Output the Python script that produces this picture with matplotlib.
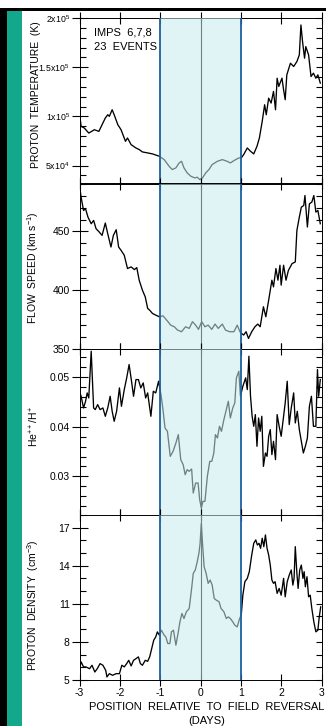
import matplotlib
matplotlib.use('Agg')
import matplotlib.pyplot as plt
from matplotlib.ticker import MultipleLocator, FixedLocator
from matplotlib.patches import Rectangle

plt.rcParams['font.family'] = ['Liberation Sans', 'DejaVu Sans']
plt.rcParams['mathtext.fontset'] = 'custom'
plt.rcParams['mathtext.rm'] = 'Liberation Sans'
plt.rcParams['mathtext.it'] = 'Liberation Sans:italic'
plt.rcParams['mathtext.bf'] = 'Liberation Sans:bold'
plt.rcParams['axes.unicode_minus'] = False

# ---------------- data ----------------
temp_days = [-3.00, -2.96, -2.88, -2.77, -2.63, -2.52, -2.44, -2.36, -2.30, -2.26, -2.19, -2.14,
             -2.05, -1.97, -1.86, -1.81, -1.72, -1.60, -1.52, -1.44, -1.31, -1.19, -1.02, -0.90,
             -0.78, -0.70, -0.61, -0.53, -0.47, -0.41, -0.33, -0.24, -0.14, -0.08, -0.02, 0.05,
             0.13, 0.21, 0.29, 0.42, 0.54, 0.66, 0.74, 0.83, 0.95, 1.01, 1.07, 1.16, 1.24, 1.32,
             1.40, 1.46, 1.53, 1.59, 1.63, 1.69, 1.75, 1.81, 1.86, 1.90, 1.94, 2.02, 2.06, 2.10,
             2.14, 2.23, 2.31, 2.39, 2.45, 2.49, 2.53, 2.58, 2.61, 2.68, 2.74, 2.80, 2.86, 2.91, 2.97]
temp_k = [103.3e3, 89.8e3, 88.1e3, 83.0e3, 86.4e3, 84.7e3, 91.5e3, 98.3e3, 101.6e3, 100.0e3, 106.7e3, 101.6e3,
          91.5e3, 86.4e3, 74.6e3, 78.0e3, 71.2e3, 67.8e3, 66.2e3, 63.8e3, 62.8e3, 61.8e3, 59.4e3, 56.0e3,
          49.3e3, 45.9e3, 47.6e3, 52.6e3, 54.3e3, 47.6e3, 42.5e3, 39.1e3, 37.4e3, 38.1e3, 35.7e3, 37.4e3,
          42.5e3, 45.9e3, 51.0e3, 54.3e3, 56.0e3, 54.3e3, 52.6e3, 55.0e3, 57.7e3, 57.7e3, 61.1e3, 67.8e3, 64.5e3, 61.8e3,
          69.5e3, 78.0e3, 94.9e3, 111.8e3, 101.6e3, 118.5e3, 113.5e3, 125.3e3, 106.7e3, 138.8e3, 130.4e3, 138.8e3, 127.0e3, 116.9e3,
          142.2e3, 154.0e3, 150.7e3, 155.7e3, 162.5e3, 192.9e3, 176.0e3, 159.1e3, 170.9e3, 162.5e3, 140.5e3, 143.9e3, 138.8e3, 142.2e3, 133.8e3]

speed_days = [-3.00, -2.96, -2.90, -2.85, -2.79, -2.71, -2.65, -2.59, -2.51, -2.44, -2.36, -2.30,
              -2.22, -2.16, -2.09, -2.03, -1.97, -1.89, -1.81, -1.72, -1.64, -1.58, -1.52, -1.44,
              -1.37, -1.31, -1.26, -1.19, -1.11, -1.02, -0.93, -0.84, -0.74, -0.65, -0.57, -0.47,
              -0.37, -0.28, -0.20, -0.12, -0.05, 0.03, 0.11, 0.19, 0.28, 0.36, 0.44, 0.54, 0.62,
              0.72, 0.83, 0.91, 0.99, 1.07, 1.13, 1.19, 1.27, 1.35, 1.42, 1.48, 1.56, 1.62, 1.69,
              1.77, 1.81, 1.87, 1.92, 1.97, 2.00, 2.06, 2.12, 2.18, 2.27, 2.35, 2.39, 2.45, 2.50,
              2.56, 2.59, 2.65, 2.70, 2.76, 2.81, 2.86, 2.91, 2.97]
speed_kms = [489.0, 479.1, 467.8, 469.2, 462.1, 456.5, 459.3, 452.3, 449.4, 446.6, 457.1, 448.0,
             436.7, 446.6, 451.4, 436.7, 433.9, 429.7, 418.4, 419.8, 417.5, 419.2, 408.5, 400.0,
             394.3, 384.5, 383.0, 380.2, 378.8, 377.4, 378.2, 374.6, 370.3, 368.9, 366.1, 364.7,
             368.9, 367.5, 373.2, 370.3, 366.7, 373.2, 368.9, 370.3, 366.7, 371.2, 367.5, 371.2, 366.1,
             364.7, 364.7, 370.3, 363.8, 361.9, 364.7, 359.0, 364.7, 368.9, 371.2, 368.9, 385.9, 377.4, 391.5,
             408.5, 402.8, 418.4, 408.5, 421.2, 404.3, 421.2, 408.5, 416.9, 422.6, 424.0, 450.8, 462.1, 470.6,
             472.0, 480.5, 453.7, 473.4, 474.9, 480.5, 466.4, 467.8, 456.5]

ratio_days = [-3.00, -2.96, -2.90, -2.85, -2.81, -2.77, -2.71, -2.65, -2.61, -2.55, -2.49, -2.42,
              -2.36, -2.30, -2.24, -2.19, -2.14, -2.08, -2.01, -1.96, -1.89, -1.83, -1.77, -1.71,
              -1.66, -1.60, -1.54, -1.48, -1.42, -1.36, -1.31, -1.23, -1.17, -1.11, -1.04, -0.98,
              -0.93, -0.88, -0.82, -0.75, -0.68, -0.61, -0.55, -0.49, -0.43, -0.38, -0.33, -0.28,
              -0.22, -0.18, -0.12, -0.06, -0.02, 0.02, 0.06, 0.11, 0.17, 0.23, 0.28, 0.33, 0.37,
              0.42, 0.47, 0.52, 0.58, 0.63, 0.69, 0.74, 0.80, 0.85, 0.89, 0.95, 0.99, 1.05, 1.12,
              1.16, 1.20, 1.24, 1.28, 1.32, 1.36, 1.40, 1.44, 1.48, 1.52, 1.56, 1.61, 1.65, 1.69,
              1.73, 1.77, 1.81, 1.86, 1.90, 1.95, 2.00, 2.06, 2.10, 2.15, 2.20, 2.25, 2.31, 2.35,
              2.40, 2.45, 2.50, 2.55, 2.60, 2.65, 2.70, 2.75, 2.80, 2.86, 2.90, 2.93, 2.97]
ratio_he_h = [0.04717, 0.04616, 0.04380, 0.04515, 0.04684, 0.04582, 0.05525, 0.04380, 0.04347, 0.04448, 0.04347, 0.04380,
              0.04212, 0.04380, 0.04616, 0.04313, 0.04111, 0.04313, 0.04785, 0.04414, 0.04751, 0.04987, 0.05256, 0.04919,
              0.04616, 0.04953, 0.04953, 0.04785, 0.04886, 0.04582, 0.04684, 0.04212, 0.04717, 0.04684, 0.04919, 0.04650,
              0.04347, 0.03976, 0.03909, 0.03404, 0.03505, 0.03673, 0.03842, 0.03337, 0.03236, 0.03034, 0.03135, 0.03101,
              0.03148, 0.02663, 0.02865, 0.02865, 0.02529, 0.02360, 0.02495, 0.02495, 0.03000, 0.03303, 0.03303, 0.03471, 0.03842,
              0.03774, 0.04010, 0.03909, 0.04145, 0.04313, 0.04515, 0.04178, 0.04380, 0.04481, 0.04987, 0.05121, 0.04616, 0.04818, 0.04987,
              0.04751, 0.05424, 0.04616, 0.04212, 0.04010, 0.04246, 0.03606, 0.04178, 0.03909, 0.04212, 0.03202, 0.03471, 0.03404, 0.03808,
              0.03943, 0.03438, 0.03707, 0.03337, 0.04246, 0.04010, 0.03808, 0.04212, 0.04481, 0.04919, 0.04044, 0.04380, 0.04684, 0.04077,
              0.04313, 0.03943, 0.03707, 0.03471, 0.03606, 0.03774, 0.04414, 0.04616, 0.04010, 0.04010, 0.05155, 0.04616, 0.04953]

dens_days = [-3.00, -2.96, -2.90, -2.84, -2.75, -2.69, -2.62, -2.56, -2.49, -2.42, -2.35, -2.32,
             -2.26, -2.18, -2.09, -2.01, -1.95, -1.89, -1.83, -1.78, -1.72, -1.66, -1.60, -1.54,
             -1.49, -1.44, -1.37, -1.31, -1.26, -1.21, -1.16, -1.11, -1.07, -1.02, -0.97, -0.90,
             -0.86, -0.81, -0.76, -0.72, -0.67, -0.61, -0.55, -0.51, -0.46, -0.41, -0.35, -0.28,
             -0.22, -0.18, -0.13, -0.08, -0.04, -0.01, 0.02, 0.05, 0.09, 0.14, 0.19, 0.24, 0.29,
             0.34, 0.39, 0.46, 0.51, 0.58, 0.64, 0.69, 0.74, 0.80, 0.85, 0.91, 0.97, 1.01, 1.05,
             1.10, 1.16, 1.21, 1.27, 1.32, 1.37, 1.41, 1.45, 1.49, 1.53, 1.57, 1.61, 1.65, 1.69,
             1.73, 1.77, 1.81, 1.85, 1.90, 1.95, 2.00, 2.06, 2.10, 2.15, 2.20, 2.25, 2.29, 2.32,
             2.35, 2.39, 2.42, 2.46, 2.50, 2.54, 2.57, 2.60, 2.64, 2.68, 2.72, 2.76, 2.81, 2.86,
             2.91, 2.94, 2.98]
dens_cm3 = [5.89, 6.42, 6.03, 6.03, 5.89, 6.16, 5.63, 5.89, 6.29, 6.16, 5.76, 5.24,
            5.50, 5.37, 5.50, 5.50, 6.16, 6.03, 6.29, 6.55, 6.11, 6.55, 6.68, 6.82,
            6.29, 6.16, 6.55, 6.47, 6.82, 7.47, 8.13, 8.39, 8.79, 8.53, 8.92, 8.53,
            8.39, 7.87, 7.87, 8.79, 8.92, 7.74, 8.79, 9.58, 10.24, 9.84, 10.37, 10.63,
            12.21, 13.39, 13.66, 14.32, 14.97, 15.76, 17.34, 15.76, 13.92, 13.39, 12.61, 12.87, 12.47,
            11.42, 11.29, 11.16, 10.63, 10.37, 9.84, 9.97, 9.84, 9.58, 9.32, 9.18, 9.84, 10.11, 11.68,
            12.74, 13.00, 13.53, 14.84, 15.76, 16.03, 15.63, 15.76, 15.37, 16.16, 15.50, 16.42, 15.37, 14.84,
            14.05, 12.87, 12.61, 12.74, 11.82, 12.21, 11.68, 13.00, 11.55, 12.74, 13.26, 13.66, 12.47, 13.00,
            15.50, 13.39, 12.21, 13.66, 14.05, 13.00, 13.53, 12.34, 13.13, 11.55, 11.68, 10.63, 9.58, 8.79,
            8.92, 9.84, 10.76]

x_ticks = [-3, -2, -1, 0, 1, 2, 3]
x_ticklabels = ['-3', '-2', '-1', '0', '1', '2', '3']

temp_ticks = [5e4, 1e5, 1.5e5, 2e5]
temp_ticklabels = [r'5x10$^{4}$', r'1x10$^{5}$', r'1.5x10$^{5}$', r'2x10$^{5}$']
speed_ticks = [350, 400, 450]
ratio_ticks = [0.03, 0.04, 0.05]
ratio_ticklabels = ['0.03', '0.04', '0.05']
dens_ticks = [5, 8, 11, 14, 17]

ylabels = ['PROTON  TEMPERATURE  (K)', r'FLOW  SPEED (km s$^{-1}$)',
           r'He$^{++}$/H$^{+}$', r'PROTON  DENSITY  (cm$^{-3}$)']
xlabel = 'POSITION  RELATIVE  TO  FIELD  REVERSAL\n(DAYS)'
note = 'IMPS  6,7,8\n23  EVENTS'

# ---------------- figure ----------------
W, H = 326, 726
fig = plt.figure(figsize=(W / 100, H / 100), dpi=100)

# frame decorations
fig.patches.append(Rectangle((0, 0), 7 / W, 1 - 8.3 / H, transform=fig.transFigure,
                             facecolor='black', edgecolor='none', zorder=0))
fig.patches.append(Rectangle((0, 1 - 10.7 / H), 1, 2.6 / H, transform=fig.transFigure,
                             facecolor='black', edgecolor='none', zorder=0))
fig.patches.append(Rectangle((7 / W, 0), 15 / W, 1 - 10.7 / H, transform=fig.transFigure,
                             facecolor='#13a88b', edgecolor='none', zorder=0))

x0, x1 = 79.5, 321.5
top0, ph = 18.0, 165.5
series = [(temp_days, temp_k), (speed_days, speed_kms), (ratio_days, ratio_he_h), (dens_days, dens_cm3)]
ylims = [(31.7e3, 200e3), (350, 490.7), (0.0223, 0.0557), (5, 18.03)]
label_y = [0.54, 0.49, 0.53, 0.45]

shade_col = (200 / 255, 235 / 255, 239 / 255)
edge_col = '#1f5f9f'

axes = []
for i in range(4):
    top = top0 + i * ph
    ax = fig.add_axes([x0 / W, 1 - (top + ph) / H, (x1 - x0) / W, ph / H])
    axes.append(ax)
    d, v = series[i]
    ax.plot(d, v, color='black', lw=0.95, zorder=2)
    ax.axvline(0, color='black', lw=0.8, zorder=2)
    ax.axvspan(-1, 1, facecolor=shade_col, alpha=0.55, lw=0, zorder=3)
    ax.axvline(-1, color=edge_col, lw=1.3, zorder=4)
    ax.axvline(1, color=edge_col, lw=1.3, zorder=4)
    ax.set_xlim(-3, 3)
    ax.set_ylim(*ylims[i])
    for s in ax.spines.values():
        s.set_linewidth(0.7)
        s.set_zorder(2.5)

    ax.xaxis.set_major_locator(FixedLocator(x_ticks))
    ax.tick_params(axis='x', which='major', direction='inout', length=8, width=0.8,
                   top=True, bottom=True, labelsize=7.5, pad=2)
    if i < 3:
        ax.tick_params(axis='x', labelbottom=False)
    else:
        ax.set_xticklabels(x_ticklabels)

    ysize = 7.5
    # y ticks
    if i == 0:
        ax.yaxis.set_major_locator(FixedLocator(temp_ticks))
        ax.set_yticklabels(temp_ticklabels)
        ax.yaxis.set_minor_locator(MultipleLocator(1e4))
        ysize = 6.3
    elif i == 1:
        ax.yaxis.set_major_locator(FixedLocator(speed_ticks))
        ax.yaxis.set_minor_locator(MultipleLocator(10))
    elif i == 2:
        ax.yaxis.set_major_locator(FixedLocator(ratio_ticks))
        ax.set_yticklabels(ratio_ticklabels)
        ax.yaxis.set_minor_locator(MultipleLocator(0.002))
    else:
        ax.yaxis.set_major_locator(FixedLocator(dens_ticks))
        ax.yaxis.set_minor_locator(MultipleLocator(1))
    ax.tick_params(axis='y', which='major', direction='inout', length=11, width=0.8,
                   left=True, right=False, labelsize=ysize, pad=1.5)
    ax.tick_params(axis='y', which='minor', direction='in', length=4, width=0.8,
                   left=True, right=False)

    # right-hand inward ticks
    axr = ax.twinx()
    axr.set_ylim(*ylims[i])
    axr.yaxis.set_major_locator(ax.yaxis.get_major_locator())
    axr.yaxis.set_minor_locator(ax.yaxis.get_minor_locator())
    axr.tick_params(axis='y', which='both', direction='in', length=4, width=0.8,
                    labelright=False)
    for s in axr.spines.values():
        s.set_visible(False)

    ax.set_ylabel(ylabels[i], fontsize=7.5)
    ax.yaxis.set_label_coords(-0.16, label_y[i])

axes[0].text(0.06, 0.945, note, transform=axes[0].transAxes, fontsize=8,
             va='top', ha='left', linespacing=1.6, zorder=6)
axes[3].set_xlabel(xlabel, fontsize=8, linespacing=1.45)
axes[3].xaxis.set_label_coords(0.525, -0.135)
axes[3].xaxis.label.set_va('top')

fig.savefig('out.png', dpi=100)
